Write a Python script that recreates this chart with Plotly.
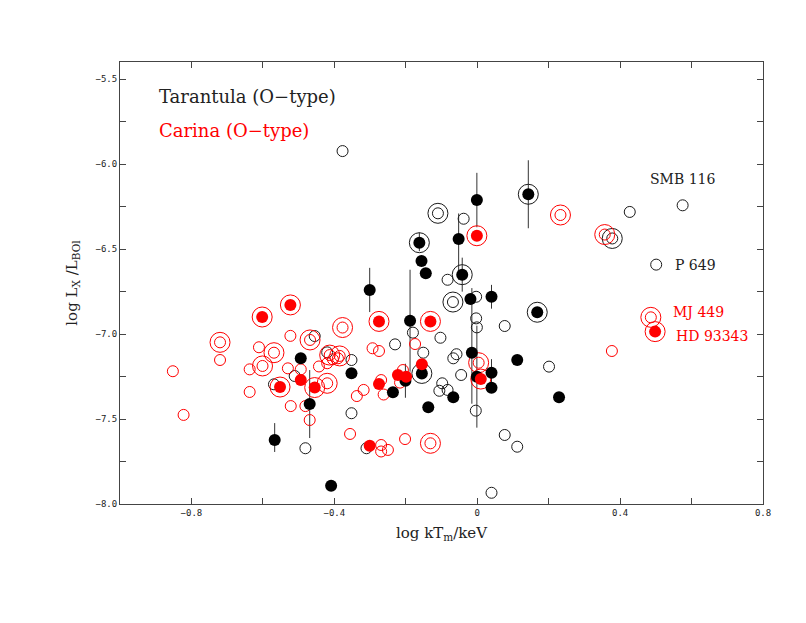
import plotly.graph_objects as go

# ---------------- Tarantula (O-type), black ----------------
tar_open_x = [-0.377, 0.427, 0.575, 0.501, -0.038, -0.083, -0.003, 0.077, -0.003, -0.001,
              -0.180, -0.103, -0.230, -0.151, -0.058, -0.067, -0.045, -0.098, -0.106, -0.083,
              -0.004, 0.201, 0.077, 0.112, 0.040, -0.352, -0.352, -0.310, -0.481, -0.455,
              -0.420, -0.569, -0.511, -0.110, -0.068, 0.378]
tar_open_y = [-5.924, -6.282, -6.243, -6.592, -6.322, -6.681, -6.781, -6.953, -6.908, -6.961,
              -6.992, -7.022, -7.061, -7.110, -7.119, -7.143, -7.241, -7.290, -7.334, -7.329,
              -7.451, -7.192, -7.594, -7.663, -7.934, -7.153, -7.466, -7.672, -7.672, -7.012,
              -7.108, -7.296, -7.247, -6.290, -6.812, -6.438]

tar_filled_x = [-0.001, 0.143, -0.162, -0.052, -0.156, -0.144, -0.042, -0.019, 0.040, 0.168,
                -0.301, -0.188, 0.112, 0.229, -0.409, -0.015, -0.001, 0.040, 0.040, -0.067,
                -0.137, -0.352, -0.201, -0.236, -0.494, -0.469, -0.567, -0.155]
tar_filled_y = [-6.212, -6.178, -6.463, -6.441, -6.571, -6.643, -6.651, -6.794, -6.781, -6.872,
                -6.741, -6.922, -7.153, -7.372, -7.892, -7.110, -7.251, -7.228, -7.316, -7.372,
                -7.431, -7.231, -7.275, -7.343, -7.143, -7.412, -7.624, -7.232]

tar_ring_x = [-0.110, -0.068, 0.378, 0.143, -0.162, -0.042, 0.168, -0.155]
tar_ring_y = [-6.290, -6.812, -6.438, -6.178, -6.463, -6.651, -6.872, -7.232]

tar_err_x = [-0.001, 0.143, -0.162, -0.052, -0.042, 0.040, -0.301, -0.188, -0.015, -0.001,
             0.040, -0.201, -0.469, -0.567]
tar_err_y = [-6.212, -6.178, -6.463, -6.441, -6.651, -6.781, -6.741, -6.922, -7.110, -7.251,
             -7.228, -7.275, -7.412, -7.624]
tar_err_up = [0.16, 0.20, 0.06, 0.15, 0.10, 0.07, 0.13, 0.30, 0.38, 0.30, 0.08, 0.10, 0.20, 0.10]
tar_err_down = [0.16, 0.20, 0.05, 0.24, 0.10, 0.07, 0.13, 0.30, 0.30, 0.30, 0.08, 0.10, 0.20, 0.07]

# ---------------- Carina (O-type), red ----------------
car_open_x = [-0.852, -0.822, -0.720, -0.611, -0.523, -0.637, -0.637, -0.530, -0.494, -0.443,
              -0.420, -0.404, -0.390, -0.522, -0.481, -0.469, -0.337, -0.318, -0.356, -0.293,
              -0.275, -0.174, -0.269, -0.208, -0.216, -0.262, -0.269, -0.269, -0.250, -0.202,
              0.377,
              -0.720, -0.569, -0.601, -0.468, -0.377, -0.420, -0.413, -0.385, -0.131, 0.004,
              0.233, 0.357, 0.486]
car_open_y = [-7.219, -7.476, -7.153, -7.078, -7.011, -7.208, -7.341, -7.202, -7.208, -7.191,
              -7.172, -7.149, -7.143, -7.424, -7.424, -7.506, -7.365, -7.329, -7.588, -7.084,
              -7.100, -7.059, -7.271, -7.212, -7.286, -7.356, -7.653, -7.691, -7.682, -7.618,
              -7.100,
              -7.049, -7.110, -7.188, -7.035, -6.962, -7.290, -7.124, -7.129, -7.643, -7.169,
              -6.300, -6.415, -6.902]

car_filled_x = [-0.602, -0.523, -0.275, -0.131, -0.001, -0.552, -0.455, 0.010, 0.498, -0.494,
                -0.155, -0.222, -0.199, -0.275, -0.301]
car_filled_y = [-6.900, -6.829, -6.926, -6.926, -6.422, -7.312, -7.315, -7.265, -6.986, -7.271,
                -7.178, -7.241, -7.251, -7.294, -7.657]

car_ring_x = [-0.720, -0.569, -0.601, -0.468, -0.377, -0.420, -0.413, -0.385, -0.131, 0.004,
              0.233, 0.357, 0.486,
              -0.602, -0.523, -0.275, -0.131, -0.001, -0.552, -0.455, 0.010, 0.498]
car_ring_y = [-7.049, -7.110, -7.188, -7.035, -6.962, -7.290, -7.124, -7.129, -7.643, -7.169,
              -6.300, -6.415, -6.902,
              -6.900, -6.829, -6.926, -6.926, -6.422, -7.312, -7.315, -7.265, -6.986]

# labelled objects
label_text = ["SMB 116", "P 649", "MJ 449", "HD 93343"]
label_x = [0.575, 0.549, 0.543, 0.552]
label_y = [-6.090, -6.592, -6.872, -7.012]
label_color = ["#222222", "#222222", "#ff0000", "#ff0000"]
label_anchor = ["center", "left", "left", "left"]

BLACK = "#1a1a1a"
RED = "#ff0000"

fig = go.Figure()

# error bars
fig.add_trace(go.Scatter(
    x=tar_err_x, y=tar_err_y, mode="markers",
    marker=dict(size=1, color="rgba(0,0,0,0)"),
    error_y=dict(type="data", symmetric=False, array=tar_err_up, arrayminus=tar_err_down,
                 width=0, thickness=1, color="#333333"),
    hoverinfo="skip"))

def open_trace(x, y, color, size):
    return go.Scatter(x=x, y=y, mode="markers",
                      marker=dict(symbol="circle-open", size=size, color=color,
                                  line=dict(width=1, color=color)))

def filled_trace(x, y, color):
    return go.Scatter(x=x, y=y, mode="markers",
                      marker=dict(symbol="circle", size=12, color=color,
                                  line=dict(width=0)))

fig.add_trace(open_trace(tar_open_x, tar_open_y, BLACK, 11))
fig.add_trace(open_trace(car_open_x, car_open_y, RED, 11))
fig.add_trace(open_trace(tar_ring_x, tar_ring_y, BLACK, 20))
fig.add_trace(open_trace(car_ring_x, car_ring_y, RED, 20))
fig.add_trace(filled_trace(tar_filled_x, tar_filled_y, "#000000"))
fig.add_trace(filled_trace(car_filled_x, car_filled_y, RED))

annotations = []
for t, x, y, c, a in zip(label_text, label_x, label_y, label_color, label_anchor):
    annotations.append(dict(text=t, x=x, y=y, xref="x", yref="y", showarrow=False,
                            xanchor=a, yanchor="middle",
                            font=dict(family="DejaVu Serif", size=14, color=c)))
annotations.append(dict(text="Tarantula (O\u2212type)", x=0.057, y=0.923, xref="paper", yref="paper",
                        showarrow=False, xanchor="left", yanchor="middle",
                        font=dict(family="DejaVu Serif", size=18, color="#222222")))
annotations.append(dict(text="Carina (O\u2212type)", x=0.057, y=0.846, xref="paper", yref="paper",
                        showarrow=False, xanchor="left", yanchor="middle",
                        font=dict(family="DejaVu Serif", size=18, color=RED)))

axis_common = dict(showline=True, linecolor="#444444", linewidth=1, mirror="ticks",
                   ticks="inside", ticklen=6, tickcolor="#444444", tickwidth=1,
                   showgrid=False, zeroline=False,
                   tickfont=dict(family="DejaVu Sans Mono", size=9, color="#222222"))

fig.update_layout(
    width=798, height=615,
    margin=dict(l=112, r=43, t=54, b=119),
    paper_bgcolor="white", plot_bgcolor="white",
    showlegend=False,
    annotations=annotations,
    xaxis=dict(range=[-1.0, 0.8], tick0=0, dtick=0.4,
               minor=dict(dtick=0.2, ticks="inside", ticklen=6, tickcolor="#444444"),
               title=dict(text="log kT<sub>m</sub>/keV", standoff=10,
                          font=dict(family="DejaVu Serif", size=15, color="#222222")),
               **axis_common),
    yaxis=dict(range=[-8.0, -5.4], tick0=-8, dtick=0.5, tickformat=".1f",
               minor=dict(dtick=0.25, ticks="inside", ticklen=6, tickcolor="#444444"),
               title=dict(text="log L<sub>X</sub> /L<sub>BOl</sub>", standoff=14,
                          font=dict(family="DejaVu Serif", size=15, color="#222222")),
               **axis_common),
)

fig.write_html("out.html")
